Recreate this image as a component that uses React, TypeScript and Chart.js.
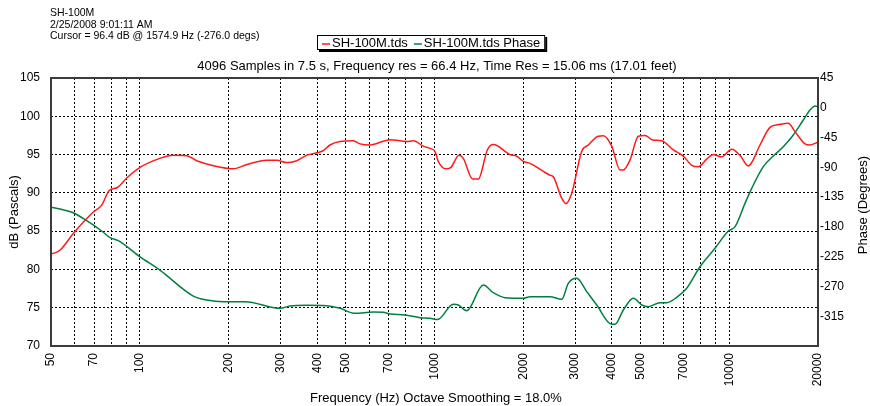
import React, { useEffect, useRef } from 'react';
import { Chart, registerables } from 'chart.js';

Chart.register(...registerables);

const headerLines = ['SH-100M', '2/25/2008 9:01:11 AM', 'Cursor = 96.4 dB @ 1574.9 Hz (-276.0 degs)'];
const chartTitle = '4096 Samples in 7.5 s, Frequency res = 66.4 Hz, Time Res = 15.06 ms (17.01 feet)';
const xTitle = 'Frequency (Hz) Octave Smoothing = 18.0%';
const yTitle = 'dB (Pascals)';
const y1Title = 'Phase (Degrees)';
const seriesNames = ['SH-100M.tds', 'SH-100M.tds Phase'];

const gridFreqs = [50, 60, 70, 80, 90, 100, 200, 300, 400, 500, 600, 700, 800, 900, 1000, 2000, 3000, 4000, 5000, 6000, 7000, 8000, 9000, 10000, 20000];
const labeledFreqs = [50, 70, 100, 200, 300, 400, 500, 700, 1000, 2000, 3000, 4000, 5000, 7000, 10000, 20000];

const magFreq = [50, 53.6, 59.5, 69.6, 74.3, 78.8, 84, 90.7, 100, 117, 130, 144, 156, 178, 208, 231, 270, 292, 315, 341, 368, 419, 442, 478, 530, 559, 604, 707, 805, 848, 916, 966, 1004, 1030, 1094, 1135, 1211, 1252, 1348, 1408, 1511, 1583, 1804, 1900, 2001, 2109, 2465, 2529, 2701, 2793, 2921, 3157, 3325, 3595, 3739, 3992, 4259, 4371, 4606, 4914, 5177, 5498, 5899, 6458, 6983, 7457, 7851, 8384, 8827, 9426, 10194, 10876, 11603, 12713, 13744, 14861, 15859, 16711, 18071, 18789, 19795, 20000];
const magDb = [82.0, 82.5, 84.7, 87.5, 88.4, 90.3, 90.7, 92.0, 93.3, 94.5, 94.9, 94.85, 94.2, 93.55, 93.15, 93.7, 94.25, 94.25, 93.95, 94.2, 94.9, 95.5, 96.25, 96.7, 96.8, 96.4, 96.25, 96.95, 96.7, 96.8, 96.1, 95.8, 95.4, 94.1, 93.15, 93.3, 94.9, 94.5, 91.8, 91.8, 95.6, 96.3, 95.0, 94.8, 94.1, 93.85, 92.3, 92.1, 89.3, 88.6, 89.95, 95.4, 96.25, 97.4, 97.45, 96.1, 93.0, 93.0, 94.3, 97.4, 97.5, 96.9, 96.8, 95.6, 94.8, 93.6, 93.4, 94.4, 95.0, 94.7, 95.7, 94.9, 93.5, 96.25, 98.55, 98.95, 99.1, 98.0, 96.4, 96.25, 96.55, 96.6];

const phaseFreq = [50, 53.6, 59.5, 66.1, 74.3, 79.3, 84.6, 100, 117, 152, 169, 192, 228, 299, 323, 368, 431, 478, 537, 620, 670, 707, 794, 893, 966, 1025, 1158, 1204, 1286, 1464, 1583, 1734, 2001, 2109, 2465, 2701, 2844, 3037, 3284, 3551, 3992, 4096, 4371, 4726, 5046, 5312, 5821, 6133, 6632, 7171, 7955, 8945, 9927, 10462, 11309, 11917, 13045, 14103, 15249, 16493, 17828, 18789, 19539, 20000];
const phaseDeg = [-150.4, -153, -158.6, -170.6, -186.2, -196.3, -200.9, -225, -245.2, -284.5, -290.5, -293, -293, -303, -299.6, -298.5, -299, -303, -310.6, -308.6, -309.1, -311.6, -313.2, -317.2, -318.2, -320, -297, -298, -306.7, -267.8, -279.5, -287, -288, -285.5, -285.5, -289.5, -265.3, -257.7, -277.9, -298, -327.2, -327.2, -305.6, -288, -298, -300.6, -294.5, -294.5, -286.4, -272.8, -240.2, -212.4, -186.2, -179.7, -144.4, -121.7, -89.0, -72.9, -58.8, -41.1, -18.5, -3.4, 2.7, 1.6];

const FONT = '"Liberation Sans", Arial, Helvetica, sans-serif';

const decorPlugin = {
  id: 'decor',
  afterDraw(chart: any) {
    const { ctx, chartArea: a } = chart;
    ctx.save();
    // plot frame
    ctx.strokeStyle = '#3c3c3c';
    ctx.lineWidth = 2;
    ctx.setLineDash([]);
    ctx.strokeRect(a.left, a.top, a.right - a.left, a.bottom - a.top);

    ctx.fillStyle = '#000';
    // header lines
    ctx.font = `10.5px ${FONT}`;
    ctx.textAlign = 'left';
    ctx.textBaseline = 'alphabetic';
    headerLines.forEach((t, i) => ctx.fillText(t, 50, 16 + i * 11.5));

    // title
    ctx.font = `13px ${FONT}`;
    ctx.textAlign = 'center';
    ctx.textBaseline = 'middle';
    ctx.fillText(chartTitle, 437, 66);

    // legend box
    const items = chart.data.datasets.map((d: any) => ({ label: d.label, color: d.borderColor }));
    const lineLen = 8, gap = 2, itemGap = 6, padX = 5;
    let total = padX * 2;
    items.forEach((it: any, i: number) => {
      it.w = ctx.measureText(it.label).width;
      total += lineLen + gap + it.w + (i > 0 ? itemGap : 0);
    });
    const boxLeft = Math.round(431 - total / 2);
    const boxTop = 35, boxH = 15;
    ctx.fillStyle = '#000';
    ctx.fillRect(boxLeft + 2, boxTop + 2, total, boxH);
    ctx.fillStyle = '#fff';
    ctx.fillRect(boxLeft, boxTop, total, boxH);
    ctx.strokeStyle = '#000';
    ctx.lineWidth = 1;
    ctx.strokeRect(boxLeft + 0.5, boxTop + 0.5, total - 1, boxH - 1);
    let cx = boxLeft + padX;
    ctx.textAlign = 'left';
    items.forEach((it: any, i: number) => {
      if (i > 0) cx += itemGap;
      ctx.strokeStyle = it.color;
      ctx.lineWidth = 1.5;
      ctx.beginPath();
      ctx.moveTo(cx, boxTop + 9);
      ctx.lineTo(cx + lineLen, boxTop + 9);
      ctx.stroke();
      cx += lineLen + gap;
      ctx.fillStyle = '#000';
      ctx.fillText(it.label, cx, boxTop + 8);
      cx += it.w;
    });

    // axis titles
    ctx.fillStyle = '#000';
    ctx.font = `13px ${FONT}`;
    ctx.textAlign = 'center';
    ctx.textBaseline = 'middle';
    ctx.save();
    ctx.translate(14, (a.top + a.bottom) / 2);
    ctx.rotate(-Math.PI / 2);
    ctx.fillText(yTitle, 0, 0);
    ctx.restore();
    ctx.save();
    ctx.translate(863, 205);
    ctx.rotate(-Math.PI / 2);
    ctx.fillText(y1Title, 0, 0);
    ctx.restore();
    ctx.fillText(xTitle, 436, 398);
    ctx.restore();
  },
};

export default function App() {
  const ref = useRef<HTMLCanvasElement | null>(null);
  useEffect(() => {
    document.body.style.margin = '0';
    const canvas = ref.current;
    if (!canvas) return;
    const magPts = magFreq.map((f, i) => ({ x: f, y: magDb[i] }));
    const phPts = phaseFreq.map((f, i) => ({ x: f, y: phaseDeg[i] }));
    const tickFont = { family: FONT, size: 12 };
    const chart = new Chart(canvas, {
      type: 'scatter',
      data: {
        datasets: [
          {
            label: seriesNames[0],
            data: magPts,
            yAxisID: 'y',
            showLine: true,
            borderColor: '#ff1a1a',
            backgroundColor: '#ff1a1a',
            borderWidth: 1.5,
            pointRadius: 0,
            cubicInterpolationMode: 'monotone',
          },
          {
            label: seriesNames[1],
            data: phPts,
            yAxisID: 'y1',
            showLine: true,
            borderColor: '#008040',
            backgroundColor: '#008040',
            borderWidth: 1.5,
            pointRadius: 0,
            cubicInterpolationMode: 'monotone',
          },
        ],
      },
      options: {
        responsive: false,
        animation: false,
        events: [],
        layout: { padding: { top: 78, left: 0, right: 0, bottom: 0 } },
        plugins: { legend: { display: false }, title: { display: false }, tooltip: { enabled: false } },
        scales: {
          x: {
            type: 'logarithmic',
            position: 'bottom',
            min: 50,
            max: 20000,
            afterBuildTicks: (s: any) => {
              s.ticks = gridFreqs.map((v) => ({ value: v }));
            },
            afterFit: (s: any) => {
              s.height = 60;
            },
            ticks: {
              autoSkip: false,
              minRotation: 90,
              maxRotation: 90,
              padding: 7,
              color: '#000',
              font: tickFont,
              callback: (v: any) => (labeledFreqs.includes(Number(v)) ? String(v) : ''),
            },
            grid: { color: '#000', lineWidth: 1, drawTicks: false },
            border: { display: false, dash: [2, 2] },
          },
          y: {
            type: 'linear',
            position: 'left',
            min: 70,
            max: 105,
            afterFit: (s: any) => {
              s.width = 51;
            },
            ticks: { stepSize: 5, padding: 11, color: '#000', font: tickFont },
            grid: { color: '#000', lineWidth: 1, drawTicks: false },
            border: { display: false, dash: [2, 2] },
          },
          y1: {
            type: 'linear',
            position: 'right',
            min: -360,
            max: 45,
            afterFit: (s: any) => {
              s.width = 52;
            },
            ticks: {
              stepSize: 45,
              padding: 2,
              color: '#000',
              font: tickFont,
              callback: (v: any) => (Number(v) === -360 ? '' : String(v)),
            },
            grid: { drawOnChartArea: false, drawTicks: false },
            border: { display: false },
          },
        },
      },
      plugins: [decorPlugin],
    });
    return () => chart.destroy();
  }, []);
  return (
    <div style={{ position: 'relative', width: 870, height: 406, background: '#fff' }}>
      <canvas ref={ref} width={870} height={406} style={{ display: 'block' }} />
    </div>
  );
}
